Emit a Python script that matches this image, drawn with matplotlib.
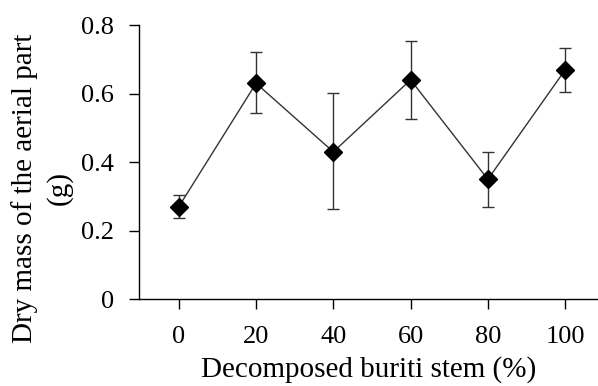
import matplotlib
matplotlib.use("Agg")
import matplotlib.pyplot as plt

# values
stem_pct = [0, 20, 40, 60, 80, 100]
dry_mass = [0.270, 0.630, 0.430, 0.640, 0.350, 0.669]
err_up = [0.034, 0.090, 0.171, 0.114, 0.081, 0.063]
err_down = [0.034, 0.087, 0.167, 0.114, 0.080, 0.063]
y_ticks = [0, 0.2, 0.4, 0.6, 0.8]
y_tick_labels = ["0", "0.2", "0.4", "0.6", "0.8"]

plt.rcParams['font.family'] = ['Liberation Serif', 'DejaVu Serif']

fig = plt.figure(figsize=(5.98, 3.86), dpi=100)
ax = fig.add_axes([139 / 598, (386 - 299.3) / 386, (598 - 139) / 598, (299.3 - 25) / 386])

ax.errorbar(stem_pct, dry_mass, yerr=[err_down, err_up], fmt='none',
            ecolor='#333333', elinewidth=1.0, capsize=4.5, capthick=1.0, zorder=2)
ax.plot(stem_pct, dry_mass, '-', color='#333333', linewidth=1.0, zorder=3)
ax.plot(stem_pct, dry_mass, 'D', color='black', markersize=9, zorder=4)

ax.set_xlim(-10.3, 108.5)
ax.set_ylim(0, 0.8)
ax.set_xticks(stem_pct)
ax.set_xticklabels([str(v) for v in stem_pct])
ax.set_yticks(y_ticks)
ax.set_yticklabels(y_tick_labels)

for side in ['top', 'right']:
    ax.spines[side].set_visible(False)
for side in ['left', 'bottom']:
    ax.spines[side].set_linewidth(1.0)
    ax.spines[side].set_color('black')

ax.tick_params(axis='both', direction='out', length=7, width=1.0, labelsize=19, colors='black')
ax.tick_params(axis='x', pad=12)
ax.tick_params(axis='y', pad=11)

ax.set_xlabel("Decomposed buriti stem (%)", fontsize=21, labelpad=6)
ax.set_ylabel("Dry mass of the aerial part\n(g)", fontsize=21, linespacing=1.35)
# label sits a bit below the axes centre in the original
ax.yaxis.set_label_coords(-0.145, 0.405)

fig.savefig("out.png", dpi=100)
